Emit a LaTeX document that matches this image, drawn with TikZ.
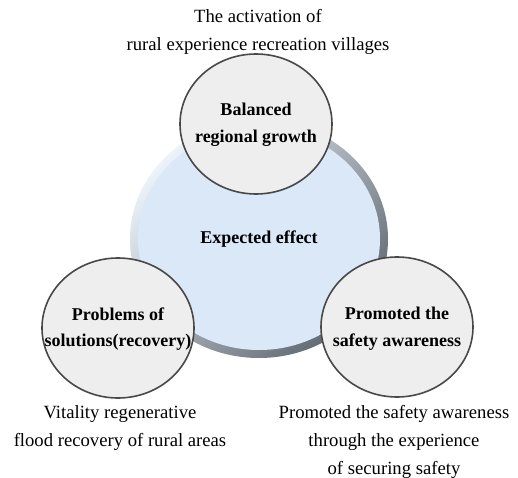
\documentclass[tikz,border=0pt]{standalone}
\usepackage{fontspec}
\setmainfont{Liberation Serif}
\usetikzlibrary{shapes.geometric}

\tikzset{every picture/.style={line width=0.75pt}}
\tikzset{
  smallcircle/.style={draw={rgb, 255:red, 72; green, 72; blue, 72 }, line width=1.2pt, fill={rgb, 255:red, 238; green, 238; blue, 238 }},
  circletext/.style={inner sep=0pt, align=center, font=\fontsize{13.5}{20}\selectfont\bfseries},
  effectcircle/.style={ellipse, fill={rgb, 255:red, 219; green, 232; blue, 248 }, minimum width=181.5pt, minimum height=166.5pt, inner sep=0pt, align=center, font=\fontsize{13.5}{20}\selectfont\bfseries},
  effecttext/.style={anchor=north, inner sep=0pt, align=center, font=\fontsize{14}{21}\selectfont}
}

\begin{document}
\begin{tikzpicture}[x=0.75pt,y=0.75pt,yscale=-1,xscale=1]
\useasboundingbox (0,0) rectangle (518,478);

%Shape: Ring [id:big ring]
\shade [top color={rgb, 255:red, 236; green, 243; blue, 250 }, bottom color={rgb, 255:red, 96; green, 104; blue, 114 }, shading angle=45] (259,239) ellipse (129 and 119);
%Shape: Ellipse [id:effect]
\node [effectcircle] (effect) at (259,239) {Expected effect};

%Shape: Ellipse [id:growth]
\draw [smallcircle] (256,124) ellipse (76 and 70);
\node [circletext] (growth) at (256,125) {Balanced\\regional growth};
%Shape: Ellipse [id:recovery]
\draw [smallcircle] (118,328) ellipse (76 and 70);
\node [circletext] (recovery) at (118,329) {Problems of\\solutions(recovery)};
%Shape: Ellipse [id:safety]
\draw [smallcircle] (397,327) ellipse (76 and 70);
\node [circletext] (safety) at (397,329) {Promoted the\\safety awareness};

% Text Node
\node [effecttext] (growthtext) at (258,9) {The activation of\\rural experience recreation villages};
% Text Node
\node [effecttext] (recoverytext) at (120,405) {Vitality regenerative\\flood recovery of rural areas};
% Text Node
\node [effecttext] (safetytext) at (394,405) {Promoted the safety awareness\\through the experience\\of securing safety};

\end{tikzpicture}
\end{document}
